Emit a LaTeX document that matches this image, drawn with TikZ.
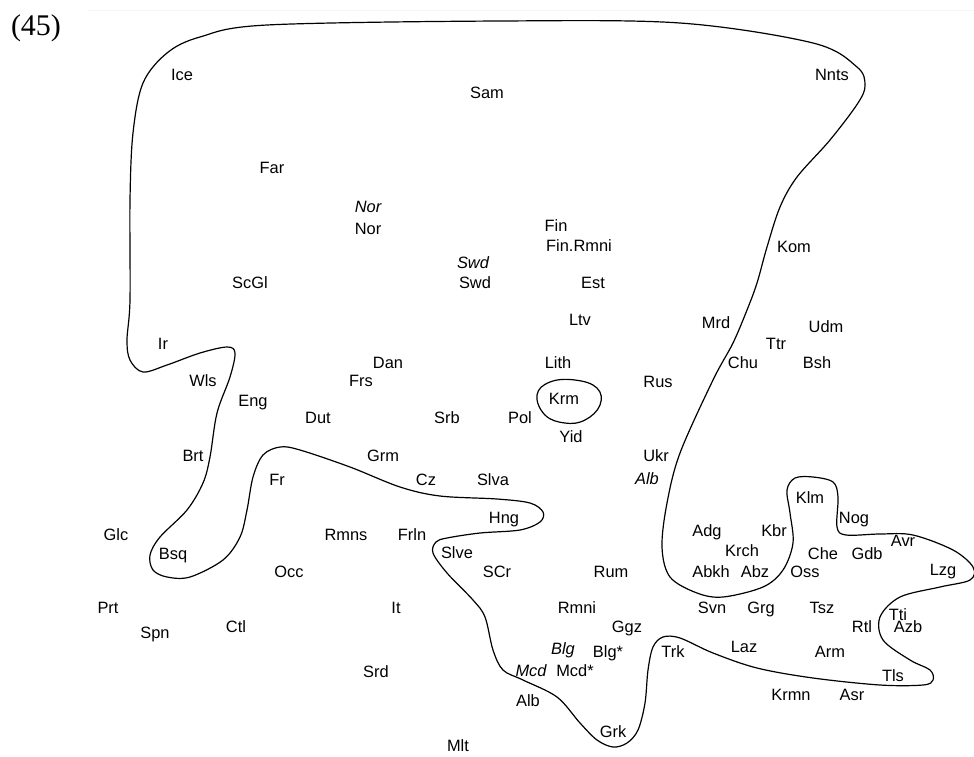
\documentclass[tikz,border=0pt]{standalone}
\usepackage{fontspec}
\setmainfont{Liberation Sans}
\newfontfamily\numfont{Liberation Serif}
\tikzset{
  lang/.style={font=\fontsize{8.2}{10}\selectfont, inner sep=0pt, text height=5.9pt, text depth=0pt},
  langit/.style={lang, font=\fontsize{8.2}{10}\selectfont\itshape},
  border/.style={line width=0.6pt, line join=round}
}
\begin{document}
\begin{tikzpicture}[x=0.5pt, y=-0.5pt]
\useasboundingbox (0,0) rectangle (974,756);
\draw[black!4, line width=0.4pt] (87,10) -- (974,10);
\node[inner sep=0pt, font=\fontsize{15}{17}\selectfont\numfont] (num) at (36,28) {(45)};
% outer border
\draw[border] plot[smooth cycle, tension=0.55] coordinates {
  (267,25) (500,21) (680,23) (813,43) (857,67) (865,85) (858,103) (830,140)
  (797,177) (780,207) (767,247) (757,283) (747,310) (733,343) (713,380)
  (680,453) (667,503) (662,547) (670,577) (697,593) (723,597) (763,587)
  (783,570) (793,543) (790,513) (787,490) (795,478) (813,477) (833,482)
  (838,497) (837,527) (846,535) (880,534) (913,535) (953,550) (973,567)
  (970,580) (940,587) (900,597) (880,617) (883,640) (910,660) (930,670)
  (933,680) (923,685) (880,685) (813,678) (757,668) (713,653) (680,638)
  (663,637) (653,647) (648,670) (645,703) (638,730) (627,743) (613,747)
  (597,740) (580,723) (557,697) (523,680) (503,670) (493,650) (485,617)
  (473,600) (447,573) (433,553) (436,542) (447,538) (480,533) (520,530)
  (540,522) (543,512) (530,503) (497,499) (440,496) (400,487) (350,467)
  (300,450) (280,447) (263,455) (253,477) (247,510) (240,537) (223,560)
  (190,577) (167,577) (153,570) (150,555) (160,537) (187,510) (203,483)
  (210,457) (217,413) (230,377) (235,353) (227,347) (200,353) (167,365)
  (143,372) (130,360) (127,340) (130,300) (130,200) (133,133) (143,83)
  (167,53) (200,37)};
% Krm loop
\draw[border] plot[smooth cycle, tension=0.7] coordinates {
  (537,395) (550,382) (575,380) (597,388) (600,405) (585,420) (565,423) (545,415)};
% languages
\node[lang] (ice) at (182,75) {Ice};
\node[lang] (sam) at (487,93) {Sam};
\node[lang] (nnts) at (832,75) {Nnts};
\node[lang] (far) at (272,168) {Far};
\node[langit] (norI) at (368,207) {Nor};
\node[lang] (nor) at (368,229) {Nor};
\node[lang] (fin) at (556,226) {Fin};
\node[lang] (finrmni) at (579,246) {Fin.Rmni};
\node[lang] (kom) at (794,247) {Kom};
\node[langit] (swdI) at (473,263) {Swd};
\node[lang] (swd) at (475,283) {Swd};
\node[lang] (scgl) at (250,283) {ScGl};
\node[lang] (est) at (593,283) {Est};
\node[lang] (ltv) at (580,320) {Ltv};
\node[lang] (mrd) at (716,323) {Mrd};
\node[lang] (udm) at (826,327) {Udm};
\node[lang] (ir) at (163,344) {Ir};
\node[lang] (ttr) at (776,344) {Ttr};
\node[lang] (dan) at (388,363) {Dan};
\node[lang] (lith) at (558,363) {Lith};
\node[lang] (chu) at (743,363) {Chu};
\node[lang] (bsh) at (817,363) {Bsh};
\node[lang] (wls) at (203,381) {Wls};
\node[lang] (frs) at (361,381) {Frs};
\node[lang] (rus) at (658,382) {Rus};
\node[lang] (krm) at (564,399) {Krm};
\node[lang] (eng) at (253,401) {Eng};
\node[lang] (dut) at (318,418) {Dut};
\node[lang] (srb) at (447,418) {Srb};
\node[lang] (pol) at (520,418) {Pol};
\node[lang] (yid) at (571,437) {Yid};
\node[lang] (brt) at (193,456) {Brt};
\node[lang] (grm) at (383,456) {Grm};
\node[lang] (ukr) at (656,456) {Ukr};
\node[lang] (fr) at (277,480) {Fr};
\node[lang] (cz) at (426,480) {Cz};
\node[lang] (slva) at (493,480) {Slva};
\node[langit] (albI) at (647,479) {Alb};
\node[lang] (klm) at (810,498) {Klm};
\node[lang] (hng) at (504,518) {Hng};
\node[lang] (nog) at (854,518) {Nog};
\node[lang] (glc) at (116,535) {Glc};
\node[lang] (rmns) at (346,535) {Rmns};
\node[lang] (frln) at (412,535) {Frln};
\node[lang] (adg) at (707,531) {Adg};
\node[lang] (kbr) at (774,531) {Kbr};
\node[lang] (avr) at (903,541) {Avr};
\node[lang] (krch) at (742,551) {Krch};
\node[lang] (che) at (823,554) {Che};
\node[lang] (gdb) at (867,554) {Gdb};
\node[lang] (bsq) at (173,554) {Bsq};
\node[lang] (slve) at (457,553) {Slve};
\node[lang] (occ) at (289,572) {Occ};
\node[lang] (scr) at (497,572) {SCr};
\node[lang] (rum) at (611,572) {Rum};
\node[lang] (abkh) at (711,572) {Abkh};
\node[lang] (abz) at (755,572) {Abz};
\node[lang] (oss) at (805,572) {Oss};
\node[lang] (lzg) at (943,570) {Lzg};
\node[lang] (prt) at (108,608) {Prt};
\node[lang] (it) at (396,608) {It};
\node[lang] (rmni) at (577,608) {Rmni};
\node[lang] (svn) at (712,608) {Svn};
\node[lang] (grg) at (761,608) {Grg};
\node[lang] (tsz) at (822,608) {Tsz};
\node[lang] (tti) at (898,615) {Tti};
\node[lang] (spn) at (155,633) {Spn};
\node[lang] (ctl) at (236,627) {Ctl};
\node[lang] (ggz) at (627,627) {Ggz};
\node[lang] (rtl) at (862,627) {Rtl};
\node[lang] (azb) at (908,627) {Azb};
\node[lang] (laz) at (744,647) {Laz};
\node[langit] (blgI) at (563,649) {Blg};
\node[lang] (blg) at (608,652) {Blg*};
\node[lang] (trk) at (673,652) {Trk};
\node[lang] (arm) at (830,652) {Arm};
\node[lang] (srd) at (376,672) {Srd};
\node[langit] (mcdI) at (531,671) {Mcd};
\node[lang] (mcd) at (575,671) {Mcd*};
\node[lang] (tls) at (893,676) {Tls};
\node[lang] (krmn) at (791,695) {Krmn};
\node[lang] (asr) at (852,695) {Asr};
\node[lang] (alb) at (528,701) {Alb};
\node[lang] (grk) at (613,732) {Grk};
\node[lang] (mlt) at (458,746) {Mlt};
\end{tikzpicture}
\end{document}
